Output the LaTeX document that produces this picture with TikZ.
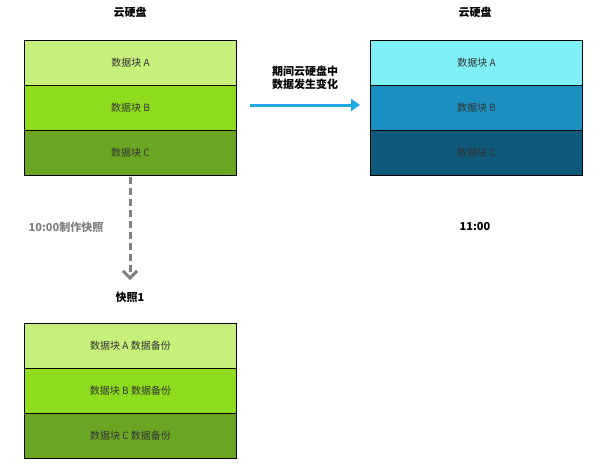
\documentclass[tikz,border=0pt]{standalone}
\usepackage{fontspec}
\setmainfont{Noto Sans CJK SC}
\usetikzlibrary{arrows.meta}
\definecolor{g1}{RGB}{198,240,122}
\definecolor{g2}{RGB}{142,220,30}
\definecolor{g3}{RGB}{106,166,36}
\definecolor{c1}{RGB}{128,240,248}
\definecolor{c2}{RGB}{26,143,192}
\definecolor{c3}{RGB}{15,90,122}
\definecolor{ab}{RGB}{30,170,230}
\begin{document}
\begin{tikzpicture}[x=1pt,y=-1pt,
  blk/.style={draw=black,line width=1pt,minimum width=212pt,minimum height=45pt,anchor=north west,inner sep=0pt,font=\fontsize{10}{12}\selectfont,text=black!80},
  ttl/.style={font=\bfseries\fontsize{11}{13}\selectfont}]
\useasboundingbox (0,0) rectangle (600,474);
\node[ttl] (t1) at (130,12) {云硬盘};
\node[ttl] (t2) at (475,12) {云硬盘};
\node[blk,fill=g1] (a1) at (24,40) {数据块 A};
\node[blk,fill=g2] (a2) at (24,85) {数据块 B};
\node[blk,fill=g3] (a3) at (24,130) {数据块 C};
\node[blk,fill=c1] (b1) at (370,40) {数据块 A};
\node[blk,fill=c2] (b2) at (370,85) {数据块 B};
\node[blk,fill=c3] (b3) at (370,130) {数据块 C};
\coordinate (s) at (250,105); \coordinate (e) at (360,105);
\draw[ab,line width=3pt,-{Triangle[length=9pt,width=12pt]}] (s) -- (e);
\node[ttl,align=center] (lab) at (305,78) {期间云硬盘中\\数据发生变化};
\node[ttl] (tm) at (475,227) {11:00};
\coordinate (d1) at (130,177); \coordinate (d2) at (130,280);
\draw[gray,line width=3pt,dash pattern=on 7pt off 4pt,-{Straight Barb[length=7pt,width=14pt]}] (d1) -- (d2);
\node[ttl,text=gray] (sl) at (66,227) {10:00制作快照};
\node[ttl] (t3) at (130,297) {快照1};
\node[blk,fill=g1] (d1n) at (24,323) {数据块 A 数据备份};
\node[blk,fill=g2] (d2n) at (24,368) {数据块 B 数据备份};
\node[blk,fill=g3] (d3n) at (24,413) {数据块 C 数据备份};
\end{tikzpicture}
\end{document}
